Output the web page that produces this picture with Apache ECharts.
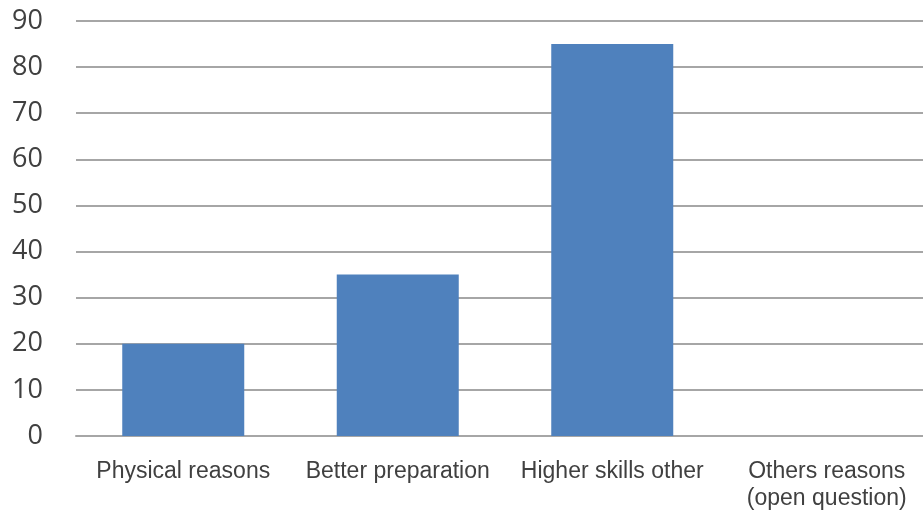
<!DOCTYPE html>
<html><head><meta charset="utf-8">
<script src="https://cdn.jsdelivr.net/npm/echarts@6/dist/echarts.min.js"></script>
<style>html,body{margin:0;padding:0;background:#fff;overflow:hidden;width:923px;height:512px}#c{width:934px;height:512px}</style>
</head><body><div id="c"></div>
<script>
const categories = ['Physical reasons', 'Better preparation', 'Higher skills other', 'Others reasons\n(open question)'];
const values = [20, 35, 85, 0];
const yMin = 0, yMax = 90, yInterval = 10;

const chart = echarts.init(document.getElementById('c'));
chart.setOption({
  animation: false,
  grid: { left: 76, top: 21, right: 0, bottom: 76, containLabel: false },
  xAxis: {
    type: 'category', data: categories,
    axisLine: { show: true, lineStyle: { color: '#a6a6a6', width: 2 } },
    axisTick: { show: false },
    axisLabel: { color: '#404040', fontFamily: 'Liberation Sans, Arial', fontSize: 23, margin: 22, lineHeight: 27, interval: 0 }
  },
  yAxis: {
    type: 'value', min: yMin, max: yMax, interval: yInterval,
    axisLine: { show: false }, axisTick: { show: false },
    splitLine: { lineStyle: { color: '#a6a6a6', width: 2 } },
    axisLabel: { color: '#404040', fontFamily: 'Open Sans, Noto Sans', fontSize: 27, margin: 33 }
  },
  series: [{
    type: 'bar', data: values, barWidth: 122,
    itemStyle: { color: '#4f81bd' }
  }]
});
</script></body></html>
